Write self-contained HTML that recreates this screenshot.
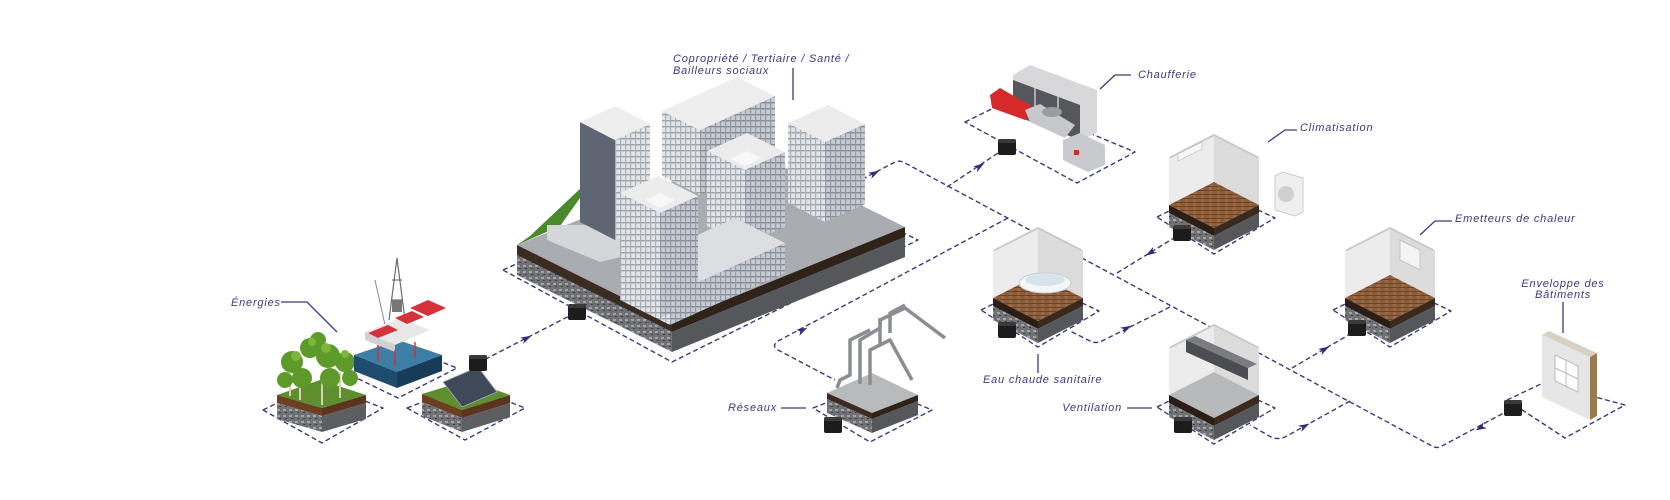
<!DOCTYPE html>
<html><head><meta charset="utf-8"><style>
html,body{margin:0;padding:0;background:#fff;}
svg{display:block;}
text{font-family:"Liberation Sans",sans-serif;font-style:italic;font-size:11px;fill:#3b3a7c;letter-spacing:0.8px;}
</style></head><body>
<svg width="1670" height="500" viewBox="0 0 1670 500" xmlns="http://www.w3.org/2000/svg">
<defs>
<pattern id="win" width="5" height="6" patternUnits="userSpaceOnUse"><rect width="5" height="6" fill="#e2e4e8"/><rect x="0" y="0" width="5" height="1.4" fill="#9ca3ac"/><rect x="0" y="0" width="1.2" height="6" fill="#aab0b8"/></pattern>
<pattern id="winD" width="5" height="6" patternUnits="userSpaceOnUse"><rect width="5" height="6" fill="#c6cad1"/><rect x="0" y="0" width="5" height="1.4" fill="#858c96"/><rect x="0" y="0" width="1.2" height="6" fill="#939aa4"/></pattern>
<pattern id="wood" width="8" height="4" patternUnits="userSpaceOnUse"><rect width="8" height="4" fill="#8d5d3a"/><rect y="0" width="8" height="1" fill="#6e4426"/><rect x="3" y="1" width="3" height="3" fill="#9c6a44"/></pattern>
<pattern id="rock" width="6" height="6" patternUnits="userSpaceOnUse"><rect width="6" height="6" fill="#6f7174"/><rect x="1" y="1" width="3" height="2" fill="#a2a4a7"/><rect x="3" y="4" width="2" height="1" fill="#3e4043"/></pattern>
<polygon id="arr" points="-6,-3.5 5,0 -6,3.5 -3,0" fill="#2f2c7a"/>
<g id="room">
  <polygon points="-57,83 0,55 61,84 0,120" fill="none" stroke="#3b3880" stroke-width="1.4" stroke-dasharray="5,3" stroke-linejoin="round"/>
  <polygon points="-45,23 0,0 0,48 -45,71" fill="#ececec"/>
  <polygon points="0,0 45,23 45,71 0,48" fill="#dcdcdc"/>
  <polygon points="-45,23 0,0 45,23 43,24 0,2 -43,24" fill="#c8c8c8"/>
  <polygon points="-45,71 0,48 45,71 0,94"/>
  <polygon points="-45,71 0,94 0,102 -45,79" fill="#2a1e16"/>
  <polygon points="0,94 45,71 45,79 0,102" fill="#3a2a1e"/>
  <polygon points="-45,79 0,102 0,116 -45,93" fill="url(#rock)"/>
  <polygon points="0,102 45,79 45,93 0,116" fill="#55575a"/>
</g>
<g id="badge"><rect x="-9" y="-8" width="18" height="16" rx="2" fill="#1c1c1c"/><rect x="-9" y="-8" width="18" height="4" rx="2" fill="#3a3a3a"/></g>
</defs>

<g fill="none" stroke="#3b3880" stroke-width="1.4" stroke-dasharray="5,3" stroke-linejoin="round">
  <polygon points="263,410 318,383 383,408 322,443"/>
  <polygon points="340,370 398,345 457,368 398,398"/>
  <polygon points="407,408 466,385 525,408 465,440"/>
  <polygon points="503,270 750,158 918,240 672,362"/>
  <polygon points="965,122 1010,100 1135,152 1077,183"/>
  <polygon points="813,408 872,385 932,410 870,442"/>
  <polygon points="1507,400 1543,383 1625,405 1565,438"/>
  <path d="M855,183 L895,162 Q900,160 905,163 L1432,446 Q1437,449 1442,446 L1513,408"/>
  <path d="M947,187 L1007,147"/>
  <path d="M1008,218 L778,341 Q771,346 778,350 L835,380"/>
  <path d="M1117,273 L1182,233"/>
  <path d="M1170,307 L1102,341 Q1096,344 1090,341 L1070,331"/>
  <path d="M1350,401 L1285,437 Q1278,440 1271,437 L1250,425"/>
  <path d="M1292,368 L1357,330"/>
  <path d="M478,363 L577,312"/>
</g>
<use href="#arr" transform="translate(875,173) rotate(-28)"/>
<use href="#arr" transform="translate(980,166) rotate(-34)"/>
<use href="#arr" transform="translate(803,330) rotate(-28)"/>
<use href="#arr" transform="translate(1150,253) rotate(148)"/>
<use href="#arr" transform="translate(1127,328) rotate(-27)"/>
<use href="#arr" transform="translate(1305,426) rotate(-28)"/>
<use href="#arr" transform="translate(1325,349) rotate(-30)"/>
<use href="#arr" transform="translate(1480,428) rotate(152)"/>
<use href="#arr" transform="translate(527,338) rotate(-27)"/>

<!-- Trees tile -->
<polygon points="277,395 320,380 366,395 322,408" fill="#5d8f2e"/>
<polygon points="277,395 322,408 322,416 277,403" fill="#6b3f22"/>
<polygon points="322,408 366,395 366,403 322,416" fill="#5a341c"/>
<polygon points="277,403 322,416 322,432 277,419" fill="url(#rock)"/>
<polygon points="322,416 366,403 366,419 322,432" fill="#5c5e61"/>
<g stroke="#d8d0b0" stroke-width="2"><line x1="300" y1="370" x2="300" y2="400"/><line x1="322" y1="375" x2="322" y2="405"/><line x1="340" y1="372" x2="340" y2="398"/><line x1="290" y1="378" x2="290" y2="396"/></g>
<g fill="#5e9a2a"><circle cx="292" cy="362" r="11"/><circle cx="310" cy="348" r="10"/><circle cx="328" cy="356" r="12"/><circle cx="345" cy="362" r="10"/><circle cx="302" cy="378" r="10"/><circle cx="330" cy="378" r="10"/><circle cx="318" cy="340" r="8"/><circle cx="285" cy="380" r="8"/><circle cx="350" cy="378" r="8"/></g>
<g fill="#7bb83a"><circle cx="296" cy="356" r="5"/><circle cx="326" cy="348" r="5"/><circle cx="345" cy="354" r="4"/><circle cx="312" cy="342" r="4"/></g>

<!-- Oil tile -->
<polygon points="354,355 398,340 442,355 397,372" fill="#3d7ea6"/>
<polygon points="354,355 397,372 397,388 354,371" fill="#1f4b6e"/>
<polygon points="397,372 442,355 442,371 397,388" fill="#173c5a"/>
<g stroke="#6a6d72" stroke-width="1.2"><line x1="397" y1="258" x2="389" y2="320"/><line x1="397" y1="258" x2="405" y2="320"/><line x1="392" y1="280" x2="402" y2="280"/><line x1="391" y1="300" x2="403" y2="300"/></g>
<line x1="375" y1="280" x2="385" y2="325" stroke="#888" stroke-width="1"/>
<rect x="392" y="300" width="10" height="12" fill="#777"/>
<polygon points="365,332 400,318 430,330 395,345" fill="#e8e8e8"/>
<polygon points="365,332 395,345 395,352 365,340" fill="#d0d0d0"/>
<polygon points="368,333 388,325 398,330 378,338" fill="#d5313a"/>
<polygon points="395,318 412,311 424,317 407,324" fill="#d5313a"/>
<polygon points="410,308 428,300 446,308 428,316" fill="#d5313a"/>
<g stroke="#d5313a" stroke-width="1.5"><line x1="378" y1="345" x2="378" y2="362"/><line x1="395" y1="350" x2="395" y2="366"/><line x1="415" y1="342" x2="415" y2="358"/></g>

<!-- Solar tile -->
<polygon points="422,394 468,380 510,395 462,410" fill="#5d8f2e"/>
<polygon points="422,394 462,410 462,418 422,402" fill="#6b3f22"/>
<polygon points="462,410 510,395 510,403 462,418" fill="#5a341c"/>
<polygon points="422,402 462,418 462,432 422,416" fill="url(#rock)"/>
<polygon points="462,418 510,403 510,417 462,432" fill="#5c5e61"/>
<polygon points="443,382 478,367 497,392 462,407" fill="#3e4a5a" stroke="#aab" stroke-width="0.8"/>
<use href="#badge" x="478" y="363"/>

<!-- Building platform -->
<polygon points="517,245 750,150 905,227 672,322" fill="#a9acb0"/>
<polygon points="517,245 560,226 600,170 530,236" fill="#4a8a2a"/>
<polygon points="517,245 672,322 672,332 517,255" fill="#3b2c22"/>
<polygon points="672,322 905,227 905,237 672,332" fill="#2e2219"/>
<polygon points="517,255 672,332 672,352 517,275" fill="url(#rock)"/>
<polygon points="672,332 905,237 905,257 672,352" fill="#55575a"/>
<!-- buildings -->
<polygon points="700,195 662,176 662,111 700,130" fill="url(#win)"/>
<polygon points="700,195 775,161 775,96 700,130" fill="url(#winD)"/>
<polygon points="700,130 662,111 737,77 775,96" fill="#eeeeee"/>
<polygon points="825,222 788,203 788,123 825,142" fill="url(#win)"/>
<polygon points="825,222 865,204 865,124 825,142" fill="url(#winD)"/>
<polygon points="825,142 788,123 828,105 865,124" fill="#ececec"/>
<polygon points="650,250 600,225 547,225 547,240 600,262" fill="#d4d6da"/>
<polygon points="615,240 580,222 580,122 615,140" fill="#5d6672"/>
<polygon points="615,240 650,224 650,124 615,140" fill="url(#win)"/>
<polygon points="615,140 580,122 615,106 650,124" fill="#eeeeee"/>
<polygon points="745,245 707,226 707,151 745,170" fill="url(#win)"/>
<polygon points="745,245 785,227 785,152 745,170" fill="url(#winD)"/>
<polygon points="745,170 707,151 747,133 785,152" fill="#ececec"/>
<polygon points="745,166 730,159 747,151 762,158" fill="#f8f8f8"/>
<polygon points="670,325 620,300 620,270 670,295" fill="url(#win)"/>
<polygon points="670,325 785,273 785,243 670,295" fill="url(#winD)"/>
<polygon points="670,295 620,270 735,218 785,243" fill="#dcdee1"/>
<polygon points="660,318 620,298 620,193 660,213" fill="url(#win)"/>
<polygon points="660,318 698,301 698,196 660,213" fill="url(#winD)"/>
<polygon points="660,213 620,193 658,176 698,196" fill="#ececec"/>
<polygon points="660,208 645,200 660,193 675,200" fill="#f8f8f8"/>
<use href="#badge" x="577" y="312"/>

<!-- Chaufferie -->
<polygon points="1013,75 1030,65 1097,90 1097,133 1080,140 1013,115" fill="#d8d8da"/>
<polygon points="1013,80 1080,105 1080,140 1013,115" fill="#55575c"/>
<g stroke="#c8c8cc" stroke-width="1.5"><line x1="1035" y1="88" x2="1035" y2="123"/><line x1="1058" y1="96" x2="1058" y2="132"/></g>
<polygon points="990,95 1000,88 1035,108 1025,120 992,108" fill="#d42a2a"/>
<polygon points="1025,110 1040,104 1075,125 1065,138 1030,122" fill="#c6c8cb"/>
<ellipse cx="1052" cy="112" rx="10" ry="5" fill="#9a9ca0"/>
<polygon points="1063,140 1080,133 1105,145 1105,165 1088,172 1063,160" fill="#c8cacd"/>
<rect x="1074" y="150" width="5" height="5" fill="#d42a2a"/>
<use href="#badge" x="1007" y="147"/>

<!-- Réseaux -->
<polygon points="827,393 872,373 918,395 872,413" fill="#b9babb"/>
<polygon points="827,393 872,413 872,419 827,399" fill="#3b2c22"/>
<polygon points="872,413 918,395 918,401 872,419" fill="#2e2219"/>
<polygon points="827,399 872,419 872,433 827,413" fill="url(#rock)"/>
<polygon points="872,419 918,401 918,415 872,433" fill="#55575a"/>
<g fill="none" stroke="#8a8d91" stroke-width="3.5" stroke-linejoin="round">
  <polyline points="837,388 840,380 850,375 850,340 870,330"/>
  <polyline points="860,384 860,340 880,328 880,318"/>
  <polyline points="870,385 870,350 890,340 912,380"/>
  <polyline points="880,345 880,320 905,308 945,338"/>
  <polyline points="890,333 890,313 905,305"/>
</g>
<use href="#badge" x="833" y="425"/>

<!-- Rooms -->
<use href="#room" x="1214" y="134" fill="url(#wood)"/>
<polygon points="1178,154 1202,142 1202,149 1178,161" fill="#f7f7f7" stroke="#bbb" stroke-width="0.6"/>
<polygon points="1275,176 1283,172 1303,178 1303,212 1295,216 1275,210" fill="#efefef" stroke="#ccc"/>
<circle cx="1286" cy="194" r="8" fill="#cfcfcf"/>
<use href="#badge" x="1182" y="233"/>

<use href="#room" x="1038" y="227" fill="url(#wood)"/>
<ellipse cx="1045" cy="283" rx="26" ry="10" fill="#f4f6f8" stroke="#c8cbd0"/>
<ellipse cx="1045" cy="280" rx="20" ry="6" fill="#d6e4ec"/>
<use href="#badge" x="1007" y="330"/>

<use href="#room" x="1390" y="227" fill="url(#wood)"/>
<polygon points="1400,240 1420,250 1420,270 1400,260" fill="#f4f4f4" stroke="#c4c4c4"/>
<use href="#badge" x="1357" y="328"/>

<use href="#room" x="1214" y="324" fill="#b8b9ba"/>
<polygon points="1186,340 1248,368 1248,380 1186,352" fill="#4a4c50"/>
<polygon points="1186,340 1195,336 1257,364 1248,368" fill="#7a7c80"/>
<use href="#badge" x="1183" y="425"/>

<!-- Envelope wall -->
<polygon points="1542,335 1590,357 1590,420 1542,397" fill="#e6e6e6"/>
<polygon points="1590,357 1597,353 1597,416 1590,420" fill="#9a7a50"/>
<polygon points="1542,335 1549,331 1597,353 1590,357" fill="#d8d0c4"/>
<polygon points="1555,355 1578,366 1578,392 1555,381" fill="#fff" stroke="#bbb"/>
<g stroke="#bbb"><line x1="1566" y1="360" x2="1566" y2="387"/><line x1="1555" y1="368" x2="1578" y2="379"/></g>
<use href="#badge" x="1513" y="408"/>

<!-- labels -->
<g fill="none" stroke="#3b3a7c" stroke-width="1.3">
  <polyline points="281,302 307,302 337,332"/>
  <line x1="793" y1="68" x2="793" y2="100"/>
  <polyline points="1131,75 1115,75 1100,89"/>
  <polyline points="1297,130 1285,130 1268,142"/>
  <polyline points="1452,221 1435,221 1420,235"/>
  <line x1="1563" y1="302" x2="1563" y2="333"/>
  <line x1="1038" y1="354" x2="1038" y2="373"/>
  <line x1="781" y1="408" x2="806" y2="408"/>
  <line x1="1127" y1="408" x2="1152" y2="408"/>
</g>
<text x="231" y="306">Énergies</text>
<text x="673" y="62">Copropriété / Tertiaire / Santé /</text>
<text x="673" y="74">Bailleurs sociaux</text>
<text x="1138" y="78">Chaufferie</text>
<text x="1300" y="131">Climatisation</text>
<text x="1455" y="222">Emetteurs de chaleur</text>
<text x="1563" y="287" text-anchor="middle">Enveloppe des</text>
<text x="1563" y="298" text-anchor="middle">Bâtiments</text>
<text x="983" y="383">Eau chaude sanitaire</text>
<text x="777" y="411" text-anchor="end">Réseaux</text>
<text x="1122" y="411" text-anchor="end">Ventilation</text>
</svg>
</body></html>
